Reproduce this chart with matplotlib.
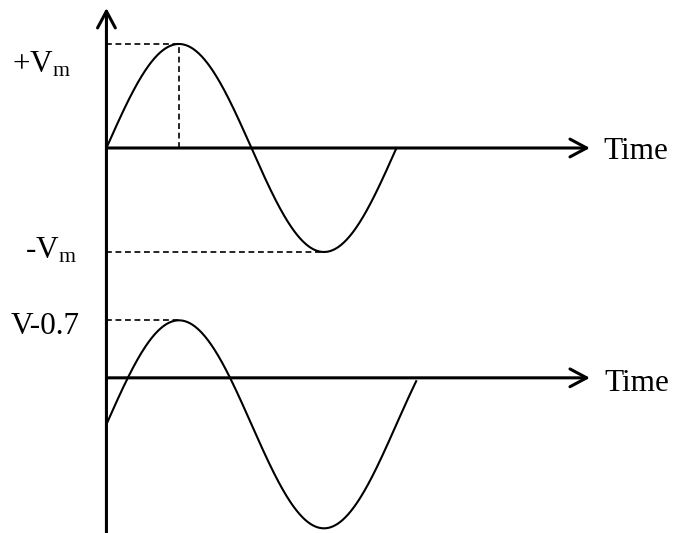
import numpy as np
import matplotlib.pyplot as plt

plt.rcParams['font.family'] = 'Liberation Serif'
plt.rcParams['mathtext.default'] = 'regular'

# DATA (time in periods, voltage in units of Vm)
vm = 1.0
top_t_end = 1.0
bottom_shift = -0.447       # whole wave pushed down by the diode drop
bottom_t_end = 1.068
bottom_base = -2.21         # vertical position of the second time axis
time_end = 1.667
v_axis_top = 1.346

t_top = np.linspace(0, top_t_end, 400)
v_top = vm * np.sin(2 * np.pi * t_top)

t_bot = np.linspace(0, bottom_t_end, 400)
v_bot = bottom_base + bottom_shift + vm * np.sin(2 * np.pi * t_bot)

fig = plt.figure(figsize=(6.74, 5.33), dpi=100)
ax = fig.add_axes([0, 0, 1, 1])
ax.set_xlim(-0.367, 1.957)
ax.set_ylim(-3.702, 1.423)
ax.axis('off')

arrow = dict(arrowstyle='->,head_length=0.6,head_width=0.32',
             lw=2.2, color='black', mutation_scale=20, shrinkA=0, shrinkB=0)

# axes
ax.annotate('', xy=(0, v_axis_top), xytext=(0, -3.702), arrowprops=arrow)
ax.annotate('', xy=(time_end, 0), xytext=(0, 0), arrowprops=arrow)
ax.annotate('', xy=(time_end, bottom_base), xytext=(0, bottom_base), arrowprops=arrow)

# waveforms
ax.plot(t_top, v_top, color='black', lw=1.5)
ax.plot(t_bot, v_bot, color='black', lw=1.5)

# dashed guides
dash = dict(color='black', lw=1.2, ls=(0, (3.5, 2.2)))
i_pk = np.argmax(v_top)
i_tr = np.argmin(v_top)
ax.plot([0, t_top[i_pk]], [v_top[i_pk]] * 2, **dash)
ax.plot([t_top[i_pk]] * 2, [0, v_top[i_pk]], **dash)
ax.plot([0, t_top[i_tr]], [v_top[i_tr]] * 2, **dash)
j_pk = np.argmax(v_bot)
ax.plot([0, t_bot[j_pk]], [v_bot[j_pk]] * 2, **dash)

# labels
fs = 22.5
ax.text(-0.122, 0.8, '+V$_m$', fontsize=fs, ha='right', va='center')
ax.text(-0.102, -0.99, '-V$_m$', fontsize=fs, ha='right', va='center')
ax.text(-0.091, -1.72, 'V-0.7', fontsize=fs, ha='right', va='center')
ax.text(1.712, -0.03, 'Time', fontsize=fs, ha='left', va='center')
ax.text(1.718, bottom_base - 0.05, 'Time', fontsize=fs, ha='left', va='center')

fig.savefig('out.png', dpi=100)
